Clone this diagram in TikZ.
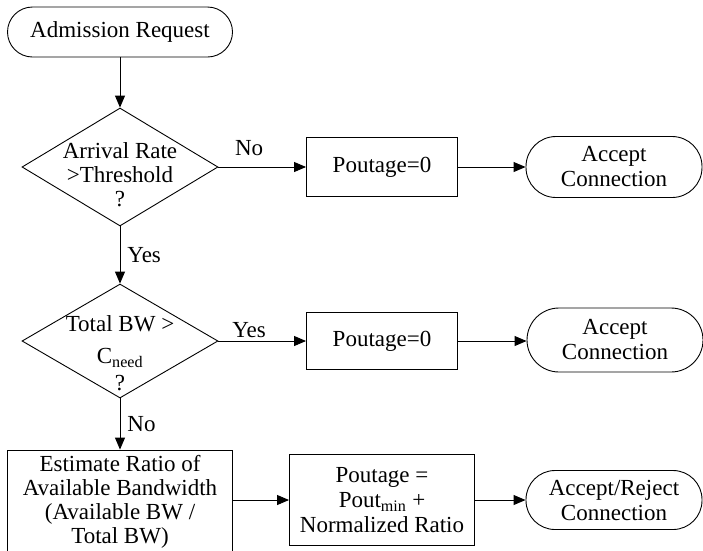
\documentclass[tikz,border=0pt]{standalone}
\usepackage{fontspec}
\setmainfont{Liberation Serif}
\usetikzlibrary{shapes.geometric,arrows.meta}

\begin{document}
\begin{tikzpicture}[x=1pt, y=-1pt, line width=0.9pt, font=\fontsize{23}{24}\selectfont,
  every node/.style={align=center, inner sep=0pt},
  term/.style={draw, rounded corners=#1},
  proc/.style={draw, rectangle},
  decision/.style={draw, diamond},
  flow/.style={-{Triangle[length=12pt,width=10pt]}}]
\clip (0,0) rectangle (703,550);

% Nodes
\node[term=25pt, minimum width=225pt, minimum height=50pt] (start) at (120,32) {Admission Request};
\node[decision, minimum width=196pt, minimum height=118pt,
  label={[align=center, yshift=-8pt]center:Arrival Rate\\>Threshold\\?}] (rate) at (120,167) {};
\node[proc, minimum width=151pt, minimum height=59pt] (zero1) at (382,167) {Poutage=0};
\node[term=30pt, minimum width=176pt, minimum height=61pt] (acc1) at (614,167) {Accept\\[1pt]Connection};
\node[decision, minimum width=196pt, minimum height=114pt,
  label={[align=center, yshift=-12pt]center:Total BW >\\[8pt]C\textsubscript{need}\\[3pt]?}] (bw) at (120,341) {};
\node[proc, minimum width=151pt, minimum height=57pt] (zero2) at (382,341) {Poutage=0};
\node[term=32pt, minimum width=176pt, minimum height=64pt] (acc2) at (615,340) {Accept\\[1pt]Connection};
\node[proc, minimum width=225pt, minimum height=104pt] (est) at (120,502) {Estimate Ratio of\\Available Bandwidth\\(Available BW /\\Total BW)};
\node[proc, minimum width=185pt, minimum height=91pt] (pout) at (382,500) {Poutage =\\[1pt]Pout\textsubscript{min} +\\[1pt]Normalized Ratio};
\node[term=29pt, minimum width=176pt, minimum height=59pt] (acc3) at (614,500) {Accept/Reject\\[1pt]Connection};

% Lines
\draw[flow] (start) -- (rate);
\draw[flow] (rate) -- node[pos=0.35, yshift=19pt] {No} (zero1);
\draw[flow] (zero1) -- (acc1);
\draw[flow] (rate) -- node[right, xshift=7pt] {Yes} (bw);
\draw[flow] (bw) -- node[pos=0.35, yshift=11pt] {Yes} (zero2);
\draw[flow] (zero2) -- (acc2.west |- zero2);
\draw[flow] (bw) -- node[right, xshift=7pt] {No} (est);
\draw[flow] (est.east |- pout) -- (pout);
\draw[flow] (pout) -- (acc3);
\end{tikzpicture}
\end{document}
